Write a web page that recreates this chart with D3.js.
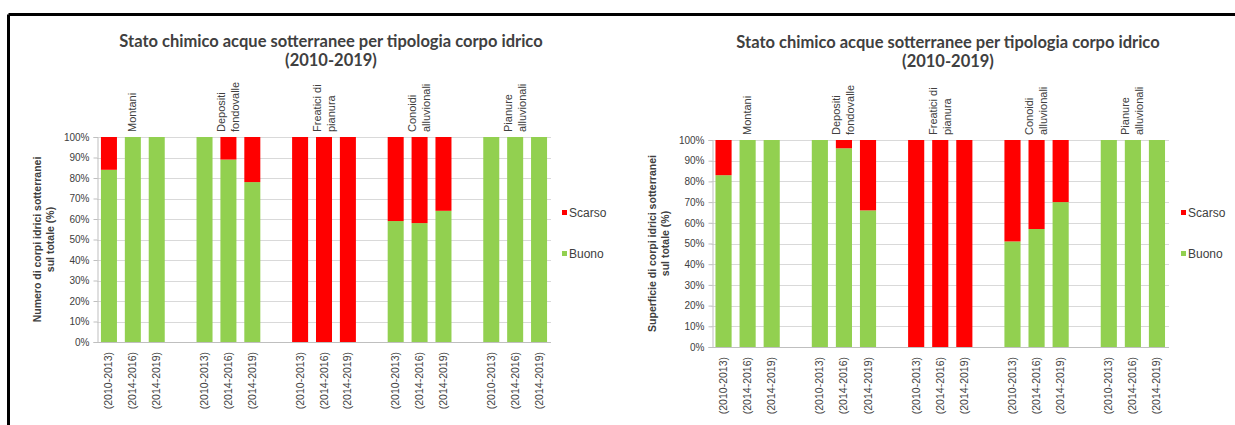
<!DOCTYPE html>
<html>
<head>
<meta charset="utf-8">
<script src="https://cdn.jsdelivr.net/npm/d3@7"></script>
<style>
  body { margin: 0; background: #fff; }
  svg { display: block; }
  text { font-family: "Liberation Sans", Arial, sans-serif; fill: #404040; }
  .title { font-family: Lato, "Open Sans", sans-serif; font-weight: bold; fill: #404040; }
</style>
</head>
<body>
<svg id="chart"></svg>
<script>
// data
var periods = ["(2010-2013)", "(2014-2016)", "(2014-2019)"];
var groups = [["Montani"], ["Depositi", "fondovalle"], ["Freatici di", "pianura"], ["Conoidi", "alluvionali"], ["Pianure", "alluvionali"]];
var yTicks = [0, 10, 20, 30, 40, 50, 60, 70, 80, 90, 100];
var seriesNames = ["Scarso", "Buono"];
var colors = { Scarso: "#ff0000", Buono: "#92d050" };

// left chart: numero di corpi idrici
var buonoNumero  = [84, 100, 100, 100, 89, 78, 0, 0, 0, 59, 58, 64, 100, 100, 100];
var scarsoNumero = [16, 0, 0, 0, 11, 22, 100, 100, 100, 41, 42, 36, 0, 0, 0];
// right chart: superficie
var buonoSuperficie  = [83, 100, 100, 100, 96, 66, 0, 0, 0, 51, 57, 70, 100, 100, 100];
var scarsoSuperficie = [17, 0, 0, 0, 4, 34, 100, 100, 100, 49, 43, 30, 0, 0, 0];

var width = 1235;
var height = 425;

var svg = d3.select("#chart").attr("width", width).attr("height", height);

// outer frame (only top and left visible)
svg.append("line").attr("x1", 8.5).attr("y1", 14.5).attr("x2", width).attr("y2", 14.5)
  .attr("stroke", "#000").attr("stroke-width", 3);
svg.append("line").attr("x1", 8.5).attr("y1", 14.5).attr("x2", 8.5).attr("y2", height)
  .attr("stroke", "#000").attr("stroke-width", 3);

// slots: 3 bars per group, one empty slot between groups
var slots = [];
groups.forEach(function(g, gi) {
  periods.forEach(function(p, pi) { slots.push(gi + "_" + pi); });
  if (gi < groups.length - 1) slots.push("gap" + gi);
});

function drawPanel(opt) {
  var g = svg.append("g");

  var x = d3.scaleBand().domain(slots).range([opt.x0, opt.x1])
    .paddingInner(0.33).paddingOuter(0.165);
  var y = d3.scaleLinear().domain([0, 100]).range([opt.yBottom, opt.yTop]);

  // title
  var title = g.append("text").attr("class", "title")
    .attr("text-anchor", "middle").style("font-size", "16.5px");
  title.append("tspan").attr("x", opt.titleX).attr("y", opt.titleY)
    .text("Stato chimico acque sotterranee per tipologia corpo idrico");
  title.append("tspan").attr("x", opt.titleX).attr("y", opt.titleY + 19)
    .text("(2010-2019)");

  // gridlines
  g.append("g").selectAll("line").data(yTicks).enter().append("line")
    .attr("x1", opt.x0).attr("x2", opt.x1)
    .attr("y1", function(d) { return Math.round(y(d)) + 0.5; })
    .attr("y2", function(d) { return Math.round(y(d)) + 0.5; })
    .attr("stroke", "#d9d9d9").attr("stroke-width", 1);

  // y axis
  var yAxis = g.append("g")
    .attr("transform", "translate(" + (Math.round(opt.x0) + 0.5) + ",0)")
    .call(d3.axisLeft(y).tickValues(yTicks).tickSize(4).tickPadding(4)
      .tickFormat(function(d) { return d + "%"; }));
  yAxis.select(".domain").attr("stroke", "#bfbfbf");
  yAxis.selectAll(".tick line").attr("stroke", "#bfbfbf");
  yAxis.selectAll("text").style("font-size", "10px").attr("fill", "#595959");

  // bottom axis line
  g.append("line").attr("x1", opt.x0).attr("x2", opt.x1)
    .attr("y1", Math.round(y(0)) + 0.5).attr("y2", Math.round(y(0)) + 0.5)
    .attr("stroke", "#bfbfbf");

  // stacked bars
  var rows = [];
  opt.buono.forEach(function(v, i) {
    var key = Math.floor(i / 3) + "_" + (i % 3);
    rows.push({ key: key, Buono: v, Scarso: opt.scarso[i] });
  });
  var stacked = d3.stack().keys(["Buono", "Scarso"])(rows);

  g.append("g").selectAll("g").data(stacked).enter().append("g")
    .attr("fill", function(d) { return colors[d.key]; })
    .selectAll("rect").data(function(d) { return d; }).enter().append("rect")
    .attr("x", function(d) { return x(d.data.key); })
    .attr("width", x.bandwidth())
    .attr("y", function(d) { return y(d[1]); })
    .attr("height", function(d) { return y(d[0]) - y(d[1]); });

  // x tick labels (rotated)
  g.append("g").selectAll("text").data(rows).enter().append("text")
    .attr("transform", function(d) {
      return "translate(" + (x(d.key) + x.bandwidth() / 2 + 3.5) + "," + (opt.yBottom + 10) + ") rotate(-90)";
    })
    .attr("text-anchor", "end")
    .style("font-size", "10.5px").attr("fill", "#595959")
    .text(function(d) { return periods[+d.key.split("_")[1]]; });

  // group labels above the plot (rotated)
  groups.forEach(function(lines, gi) {
    var cx = x(gi + "_1") + x.bandwidth() / 2;
    var start = cx - (lines.length - 1) * 7;
    lines.forEach(function(t, li) {
      g.append("text")
        .attr("transform", "translate(" + (start + li * 14 + 3.5) + "," + (opt.yTop - 5) + ") rotate(-90)")
        .attr("text-anchor", "start")
        .style("font-size", "11px").attr("fill", "#262626")
        .text(t);
    });
  });

  // y axis title
  var yt = g.append("text")
    .attr("transform", "translate(" + (opt.x0 - 56) + "," + ((opt.yTop + opt.yBottom) / 2) + ") rotate(-90)")
    .attr("text-anchor", "middle")
    .style("font-size", "10.5px").style("font-weight", "bold").attr("fill", "#262626");
  yt.append("tspan").attr("x", 0).attr("y", 0).text(opt.yTitle[0]);
  yt.append("tspan").attr("x", 0).attr("y", 13).text(opt.yTitle[1]);

  // legend
  var legend = g.append("g").attr("transform", "translate(" + opt.legendX + ",0)");
  seriesNames.forEach(function(s, i) {
    var row = legend.append("g").attr("transform", "translate(0," + (213 + i * 41) + ")");
    row.append("rect").attr("x", 0).attr("y", -3).attr("width", 5).attr("height", 5)
      .attr("fill", colors[s]);
    row.append("text").attr("x", 7).attr("y", 4)
      .style("font-size", "12px").attr("fill", "#595959").text(s);
  });
}

drawPanel({
  x0: 97, x1: 551, yTop: 137, yBottom: 342,
  buono: buonoNumero, scarso: scarsoNumero,
  titleX: 331, titleY: 47,
  yTitle: ["Numero di corpi idrici sotterranei", "sul totale (%)"],
  legendX: 562
});

drawPanel({
  x0: 711.5, x1: 1169, yTop: 140, yBottom: 347,
  buono: buonoSuperficie, scarso: scarsoSuperficie,
  titleX: 948, titleY: 48,
  yTitle: ["Superficie di corpi idrici sotterranei", "sul totale (%)"],
  legendX: 1181
});
</script>
</body>
</html>
